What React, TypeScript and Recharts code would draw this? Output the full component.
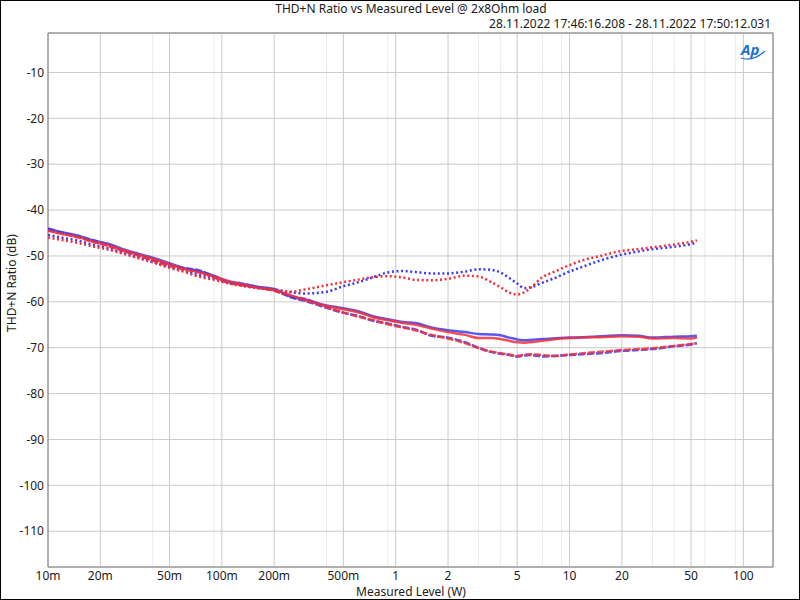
import { LineChart, Line, XAxis, YAxis, CartesianGrid, ReferenceArea } from 'recharts';

// measured output level, W (shared by all six traces)
const levels = [
  0.01, 0.012, 0.015, 0.018, 0.022, 0.027, 0.033, 0.04, 0.05, 0.06, 0.075, 0.09,
  0.11, 0.13, 0.16, 0.2, 0.25, 0.3, 0.4, 0.5, 0.6, 0.75, 0.9, 1.1, 1.3, 1.6, 2,
  2.5, 3, 3.5, 4, 4.5, 5, 5.5, 6, 7, 8, 10, 12, 15, 20, 25, 30, 40, 50, 54,
];

// THD+N ratio, dB
const blueSolid = [
  -44.1, -44.8, -45.6, -46.6, -47.3, -48.5, -49.5, -50.4, -51.6, -52.6, -53.4, -54.3,
  -55.6, -56.0, -56.7, -57.2, -58.9, -59.5, -60.8, -61.4, -62.0, -63.2, -63.8, -64.4, -64.6, -65.6, -66.2,
  -66.6, -67.0, -67.1, -67.3, -67.8, -68.2, -68.4, -68.3, -68.1, -68.0, -67.8, -67.7, -67.5, -67.3, -67.4, -67.8, -67.6, -67.5, -67.4,
];
const redSolid = [
  -44.5, -45.2, -45.9, -46.8, -47.6, -48.7, -49.7, -50.6, -51.8, -52.8, -53.6, -54.5,
  -55.5, -56.2, -56.9, -57.4, -58.6, -59.6, -60.9, -61.6, -62.2, -63.4, -64.0, -64.6, -65.0, -65.8, -66.6,
  -67.2, -67.9, -67.9, -68.1, -68.5, -68.8, -68.9, -68.8, -68.5, -68.2, -67.9, -67.8, -67.7, -67.5, -67.6, -68.0, -67.9, -68.0, -67.8,
];
const blueDashed = [
  -44.0, -44.9, -45.8, -46.5, -47.5, -48.8, -49.8, -50.9, -52.0, -52.6, -53.2, -54.5,
  -55.8, -56.3, -56.8, -57.5, -59.0, -59.8, -61.3, -62.4, -63.0, -64.2, -64.7, -65.5, -66.0, -67.4, -67.8,
  -68.8, -70.0, -70.9, -71.3, -71.6, -71.9, -71.7, -71.6, -71.9, -71.8, -71.6, -71.4, -71.2, -70.7, -70.5, -70.3, -69.7, -69.3, -69.0,
];
const redDashed = [
  -44.4, -45.0, -46.0, -46.9, -47.8, -48.9, -49.9, -51.0, -52.2, -52.9, -53.6, -54.7,
  -55.9, -56.4, -56.9, -57.6, -58.8, -59.3, -61.2, -62.3, -63.2, -64.0, -64.9, -65.6, -66.2, -67.2, -68.0,
  -69.0, -70.1, -70.8, -71.2, -71.5, -71.8, -71.5, -71.4, -71.6, -71.8, -71.5, -71.2, -70.9, -70.5, -70.3, -70.1, -69.6, -69.2, -69.1,
];
const blueDotted = [
  -45.4, -46.0, -46.7, -47.5, -48.3, -49.3, -50.3, -51.3, -52.4, -53.2, -54.2, -54.9,
  -55.8, -56.4, -57.0, -57.4, -57.9, -58.2, -57.8, -56.6, -55.8, -54.6, -53.6, -53.3, -53.5, -53.8, -53.8,
  -53.4, -52.9, -53.0, -53.6, -54.8, -56.0, -57.0, -56.8, -55.8, -55.0, -53.4, -52.3, -51.0, -49.7, -49.0, -48.5, -48.0, -47.4, -47.1,
];
const redDotted = [
  -46.0, -46.5, -47.2, -47.9, -48.6, -49.5, -50.5, -51.4, -52.6, -53.4, -54.6, -55.2,
  -56.0, -56.5, -57.0, -57.3, -57.8, -57.3, -56.4, -55.7, -55.2, -54.6, -54.4, -54.7, -55.2, -55.3, -55.0,
  -54.3, -54.5, -55.6, -56.8, -58.0, -58.4, -57.9, -56.9, -54.6, -53.6, -52.0, -50.9, -50.0, -48.9, -48.5, -48.1, -47.5, -46.9, -46.6,
];

const xTicks = [0.01, 0.02, 0.05, 0.1, 0.2, 0.5, 1, 2, 5, 10, 20, 50, 100];
const xMinor = [
  0.03, 0.04, 0.06, 0.07, 0.08, 0.09, 0.3, 0.4, 0.6, 0.7, 0.8, 0.9,
  3, 4, 6, 7, 8, 9, 30, 40, 60, 70, 80, 90,
];
const yTicks = [-10, -20, -30, -40, -50, -60, -70, -80, -90, -100, -110];
const xDomain = [0.01, 148];
const yDomain = [-117.8, -1.4];

const data = levels.map((w, i) => ({
  w,
  blueSolid: blueSolid[i],
  redSolid: redSolid[i],
  blueDashed: blueDashed[i],
  redDashed: redDashed[i],
  blueDotted: blueDotted[i],
  redDotted: redDotted[i],
}));

const BLUE = '#3a3af5';
const RED = '#f0303c';
const FONT = '"Noto Sans", "Open Sans", sans-serif';

const fmtLevel = (v: number) => (v < 1 ? `${Math.round(v * 1000)}m` : `${v}`);

const textStyle = { position: 'absolute' as const, fontFamily: FONT, fontSize: 12, color: '#1a1a1a', whiteSpace: 'nowrap' as const, lineHeight: '13px' };

export default function App() {
  return (
    <div style={{ position: 'fixed', left: 0, top: 0, width: 800, height: 600, background: '#fff', boxSizing: 'border-box', border: '1px solid #000', overflow: 'hidden' }}>
      <div style={{ position: 'absolute', left: -1, top: -1 }}>
        <LineChart width={800} height={600} data={data} margin={{ top: 33, right: 27, bottom: 0, left: 0 }}>
          <CartesianGrid stroke="#ebebeb" horizontal={false} verticalValues={xMinor} />
          <CartesianGrid stroke="#cacaca" />
          <XAxis
            dataKey="w"
            type="number"
            scale="log"
            domain={xDomain}
            allowDataOverflow
            ticks={xTicks}
            tickFormatter={fmtLevel}
            height={33}
            tickSize={0}
            tickMargin={4}
            axisLine={false}
            tick={{ fill: '#1a1a1a', fontSize: 12, fontFamily: FONT }}
          />
          <YAxis
            type="number"
            domain={yDomain}
            allowDataOverflow
            ticks={yTicks}
            width={48}
            tickSize={0}
            tickMargin={4}
            axisLine={false}
            tick={{ fill: '#1a1a1a', fontSize: 12, fontFamily: FONT }}
          />
          <Line type="monotone" dataKey="blueDotted" stroke={BLUE} strokeWidth={2.5} strokeDasharray="2 2.6" dot={false} activeDot={false} isAnimationActive={false} />
          <Line type="monotone" dataKey="redDotted" stroke={RED} strokeWidth={2.5} strokeDasharray="2 2.6" dot={false} activeDot={false} isAnimationActive={false} />
          <Line type="monotone" dataKey="blueDashed" stroke={BLUE} strokeWidth={2.5} strokeDasharray="7 2" strokeOpacity={0.85} dot={false} activeDot={false} isAnimationActive={false} />
          <Line type="monotone" dataKey="redDashed" stroke={RED} strokeWidth={2.5} strokeDasharray="7 2" strokeOpacity={0.85} dot={false} activeDot={false} isAnimationActive={false} />
          <Line type="monotone" dataKey="blueSolid" stroke={BLUE} strokeWidth={2.5} strokeOpacity={0.85} dot={false} activeDot={false} isAnimationActive={false} />
          <Line type="monotone" dataKey="redSolid" stroke={RED} strokeWidth={2.5} strokeOpacity={0.85} dot={false} activeDot={false} isAnimationActive={false} />
          <ReferenceArea x1={xDomain[0]} x2={xDomain[1]} y1={yDomain[0]} y2={yDomain[1]} fill="none" stroke="#7a7a7a" strokeWidth={1} ifOverflow="visible" />
        </LineChart>
      </div>
      <div style={{ ...textStyle, left: 410, top: 1, transform: 'translateX(-50%)' }}>THD+N Ratio vs Measured Level @ 2x8Ohm load</div>
      <div style={{ ...textStyle, right: 28, top: 16 }}>28.11.2022 17:46:16.208 - 28.11.2022 17:50:12.031</div>
      <div style={{ ...textStyle, left: 410, top: 584, transform: 'translateX(-50%)' }}>Measured Level (W)</div>
      <div style={{ ...textStyle, left: 10, top: 282, transform: 'translate(-50%, -50%) rotate(-90deg)' }}>THD+N Ratio (dB)</div>
      <svg style={{ position: 'absolute', left: 736, top: 38 }} width={36} height={24}>
        <text x={4} y={16} fontFamily={FONT} fontSize={15} fontWeight={700} fontStyle="italic" fill="#1f6fd6">Ap</text>
        <path d="M4 19 Q 16 23 28 12" fill="none" stroke="#1f6fd6" strokeWidth={1.2} />
      </svg>
    </div>
  );
}
